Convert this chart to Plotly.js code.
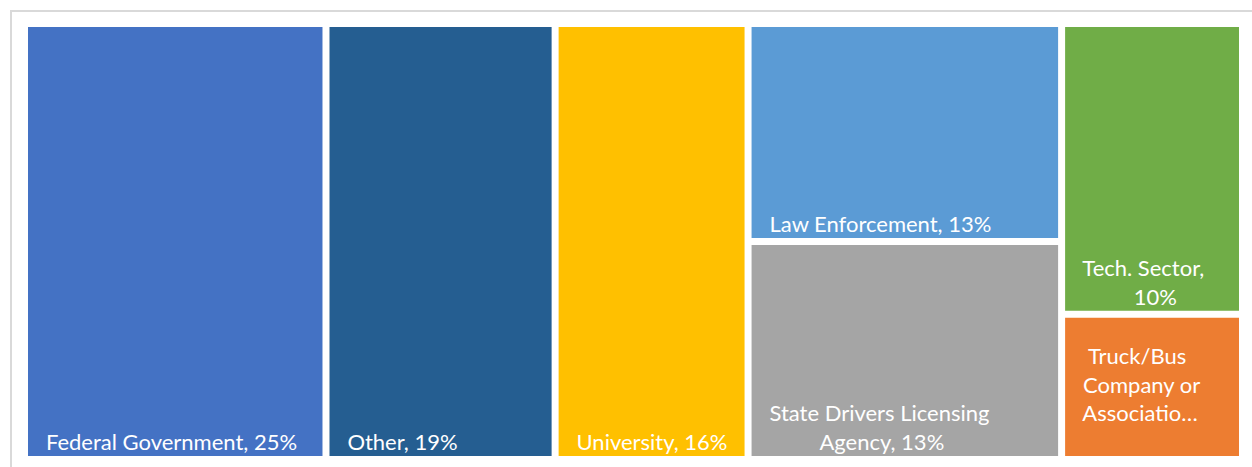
<!DOCTYPE html>
<html>
<head>
<meta charset="utf-8">
<script src="https://cdn.plot.ly/plotly-3.0.1.min.js"></script>
<style>
html, body { margin: 0; padding: 0; background: #fff; overflow: hidden; }
#frame { position: absolute; left: 10px; top: 10px; width: 1260px; height: 480px; border: 2px solid #d9d9d9; box-sizing: border-box; }
#chart { position: absolute; left: 0; top: 0; width: 1252px; height: 467px; }
</style>
</head>
<body>
<div id="frame"></div>
<div id="chart"></div>
<script>
// Treemap nodes (Excel-style grouping: two stacked columns on the right)
const ids     = ["root", "fed", "other", "univ", "colA", "law", "state", "colB", "tech", "truck"];
const parents = ["", "root", "root", "root", "root", "colA", "colA", "root", "colB", "colB"];
const labels  = ["All", "Federal Government", "Other", "University", "", "Law Enforcement", "State Drivers Licensing Agency", "", "Tech. Sector", "Truck/Bus Company or Association"];
const values  = [0, 25, 19, 16, 0, 13, 13, 0, 10, 5];
const S = "\u00A0";
const displayText = [
  "",
  S+S+S+"Federal Government, 25%",
  S+S+S+"Other, 19%",
  S+S+S+"University, 16%",
  "",
  S+S+S+"Law Enforcement, 13%",
  S+S+S+"State Drivers Licensing<br>" + S.repeat(12) + "Agency, 13%",
  "",
  S+S+S+"Tech. Sector,<br>" + S.repeat(12) + "10%",
  S+S+S+S+"Truck/Bus<br>"+S+S+S+"Company or<br>"+S+S+S+"Associatio\u2026<br>"+S
];
const colors = ["#ffffff", "#4472C4", "#255E91", "#FFC000", "#ffffff", "#5B9BD5", "#A5A5A5", "#ffffff", "#70AD47", "#ED7D31"];

Plotly.newPlot("chart", [{
  type: "treemap",
  ids: ids,
  labels: labels,
  parents: parents,
  values: values,
  text: displayText,
  textinfo: "text",
  textposition: "bottom left",
  sort: false,
  tiling: { packing: "slice-dice" },
  pathbar: { visible: false },
  marker: { colors: colors, line: { color: "#ffffff", width: 4 }, pad: { t: 0, l: 0, r: 0, b: 0 } },
  textfont: { family: "Lato, 'Open Sans', sans-serif", size: 22, color: "#ffffff" },
  hoverinfo: "skip"
}], {
  width: 1252, height: 467,
  margin: { l: 26, r: 11, t: 25, b: 9, pad: 0 },
  paper_bgcolor: "rgba(0,0,0,0)",
  plot_bgcolor: "rgba(0,0,0,0)",
  showlegend: false
}, { displayModeBar: false, staticPlot: true });
</script>
</body>
</html>
